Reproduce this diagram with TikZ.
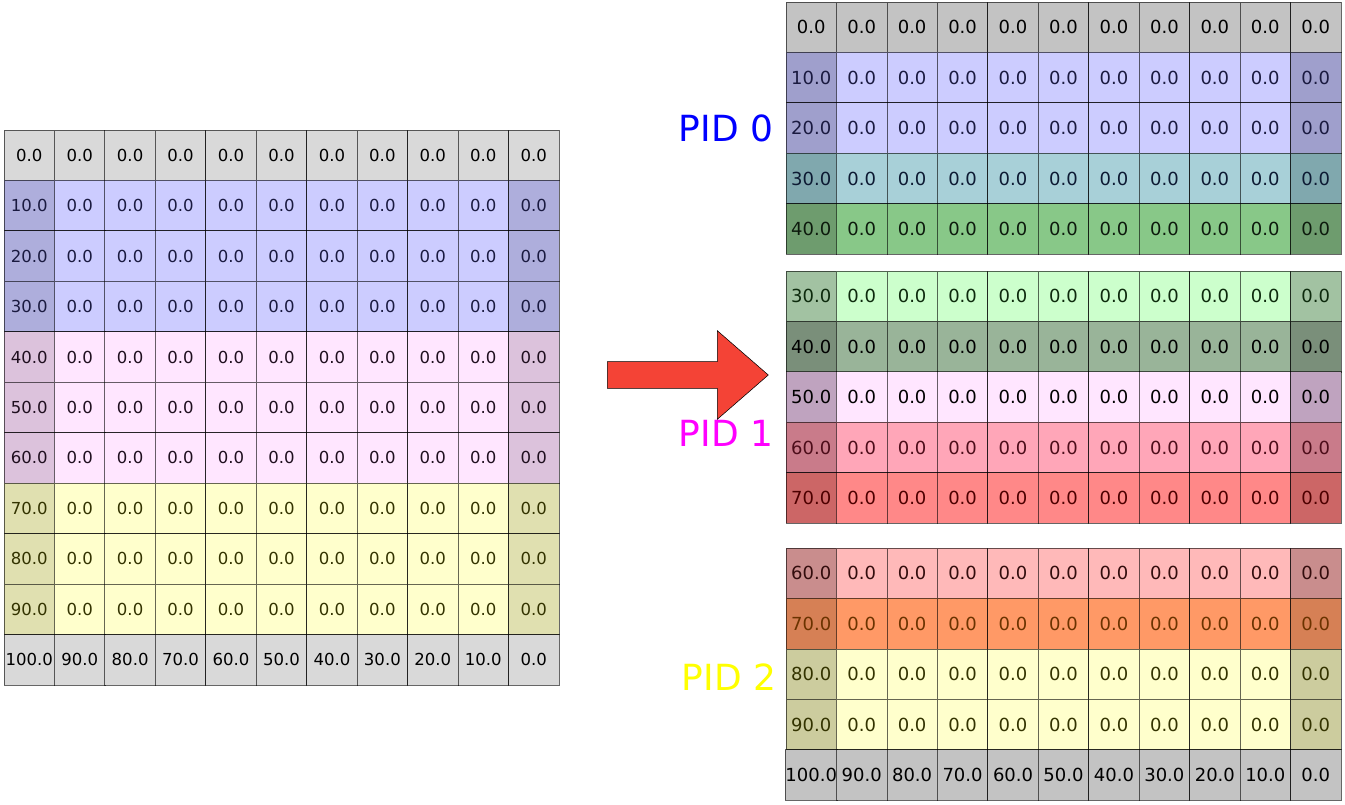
\documentclass[tikz,border=0pt]{standalone}
\usepackage{fontspec}
\setmainfont{DejaVu Sans}
\usetikzlibrary{shapes.arrows}

\definecolor{lgray}{HTML}{D9D9D9}
\definecolor{lblue}{HTML}{CCCCFF}
\definecolor{lblueedge}{HTML}{AEAEDC}
\definecolor{lbluetext}{HTML}{1A1A40}
\definecolor{lpink}{HTML}{FFE6FF}
\definecolor{lpinkedge}{HTML}{DCC2DC}
\definecolor{lpinktext}{HTML}{1F0F1F}
\definecolor{lyellow}{HTML}{FFFFCC}
\definecolor{lyellowedge}{HTML}{E0E0B0}
\definecolor{lyellowtext}{HTML}{333300}
\definecolor{rgray}{HTML}{C3C3C3}
\definecolor{rblueedge}{HTML}{9F9FCC}
\definecolor{teal}{HTML}{A8D0D8}
\definecolor{tealedge}{HTML}{80A8AE}
\definecolor{tealtext}{HTML}{0D1A33}
\definecolor{green}{HTML}{88C888}
\definecolor{greenedge}{HTML}{6E9C6E}
\definecolor{greentext}{HTML}{0D1A0D}
\definecolor{lgreen}{HTML}{CCFFCC}
\definecolor{lgreenedge}{HTML}{A2C2A2}
\definecolor{lgreentext}{HTML}{0D2A0D}
\definecolor{sage}{HTML}{99B499}
\definecolor{sageedge}{HTML}{7A8F7A}
\definecolor{rpinkedge}{HTML}{BFA3BF}
\definecolor{rose}{HTML}{FFA6B8}
\definecolor{roseedge}{HTML}{C97B8A}
\definecolor{rosetext}{HTML}{4D0D1A}
\definecolor{salmon}{HTML}{FF8888}
\definecolor{salmonedge}{HTML}{CC6666}
\definecolor{salmontext}{HTML}{4D0000}
\definecolor{blush}{HTML}{FFB9B9}
\definecolor{blushedge}{HTML}{C98D8D}
\definecolor{blushtext}{HTML}{330D0D}
\definecolor{orange}{HTML}{FF9966}
\definecolor{orangeedge}{HTML}{D68055}
\definecolor{orangetext}{HTML}{6B3300}
\definecolor{ryellowedge}{HTML}{CCCC9E}
\definecolor{arrowred}{HTML}{F44336}
\definecolor{pidblue}{HTML}{0000FF}
\definecolor{pidmagenta}{HTML}{FF00FF}
\definecolor{pidyellow}{HTML}{FFFF00}

\tikzset{
  cell/.style={draw=black, draw opacity=0.6, line width=0.6pt, minimum width=37.84pt, minimum height=37.84pt, inner sep=0pt},
  lcell/.style={cell, font=\fontsize{12.4}{14}\selectfont},
  rcell/.style={cell, font=\fontsize{13.5}{15}\selectfont},
  pid/.style={font=\fontsize{27}{30}\selectfont}
}

% one row of a grid: name, row, x0, y0, fill, edge fill, text colour, first label, cell style
\newcommand{\gridrow}[9]{%
  \foreach \col in {0,...,10} {
    \ifnum\col=0 \def\cellfill{#6}\def\celltext{#8}%
    \else\ifnum\col=10 \def\cellfill{#6}\def\celltext{0.0}%
    \else \def\cellfill{#5}\def\celltext{0.0}\fi\fi
    \node[#9, fill=\cellfill, text=#7] (#1-#2-\col) at ({#3+50.45*(\col+0.5)}, {#4+50.45*(#2+0.5)}) {\celltext};
  }%
}
% bottom row of a grid: name, row, x0, y0, fill, cell style
\newcommand{\lastrow}[6]{%
  \foreach \lab [count=\col from 0] in {100.0,90.0,80.0,70.0,60.0,50.0,40.0,30.0,20.0,10.0,0.0} {
    \node[#6, fill=#5] (#1-#2-\col) at ({#3+50.45*(\col+0.5)}, {#4+50.45*(#2+0.5)}) {\lab};
  }%
}

\begin{document}
\begin{tikzpicture}[x=0.75pt, y=-0.75pt]
  \useasboundingbox (0,0) rectangle (1345,805);

  % full domain
  \gridrow{L}{0}{4}{130}{lgray}{lgray}{black}{0.0}{lcell}
  \gridrow{L}{1}{4}{130}{lblue}{lblueedge}{lbluetext}{10.0}{lcell}
  \gridrow{L}{2}{4}{130}{lblue}{lblueedge}{lbluetext}{20.0}{lcell}
  \gridrow{L}{3}{4}{130}{lblue}{lblueedge}{lbluetext}{30.0}{lcell}
  \gridrow{L}{4}{4}{130}{lpink}{lpinkedge}{lpinktext}{40.0}{lcell}
  \gridrow{L}{5}{4}{130}{lpink}{lpinkedge}{lpinktext}{50.0}{lcell}
  \gridrow{L}{6}{4}{130}{lpink}{lpinkedge}{lpinktext}{60.0}{lcell}
  \gridrow{L}{7}{4}{130}{lyellow}{lyellowedge}{lyellowtext}{70.0}{lcell}
  \gridrow{L}{8}{4}{130}{lyellow}{lyellowedge}{lyellowtext}{80.0}{lcell}
  \gridrow{L}{9}{4}{130}{lyellow}{lyellowedge}{lyellowtext}{90.0}{lcell}
  \lastrow{L}{10}{4}{130}{lgray}{lcell}

  % PID 0
  \gridrow{A}{0}{786}{2}{rgray}{rgray}{black}{0.0}{rcell}
  \gridrow{A}{1}{786}{2}{lblue}{rblueedge}{lbluetext}{10.0}{rcell}
  \gridrow{A}{2}{786}{2}{lblue}{rblueedge}{lbluetext}{20.0}{rcell}
  \gridrow{A}{3}{786}{2}{teal}{tealedge}{tealtext}{30.0}{rcell}
  \gridrow{A}{4}{786}{2}{green}{greenedge}{greentext}{40.0}{rcell}

  % PID 1
  \gridrow{B}{0}{786}{271}{lgreen}{lgreenedge}{lgreentext}{30.0}{rcell}
  \gridrow{B}{1}{786}{271}{sage}{sageedge}{black}{40.0}{rcell}
  \gridrow{B}{2}{786}{271}{lpink}{rpinkedge}{black}{50.0}{rcell}
  \gridrow{B}{3}{786}{271}{rose}{roseedge}{rosetext}{60.0}{rcell}
  \gridrow{B}{4}{786}{271}{salmon}{salmonedge}{salmontext}{70.0}{rcell}

  % PID 2
  \gridrow{C}{0}{786}{548}{blush}{blushedge}{blushtext}{60.0}{rcell}
  \gridrow{C}{1}{786}{548}{orange}{orangeedge}{orangetext}{70.0}{rcell}
  \gridrow{C}{2}{786}{548}{lyellow}{ryellowedge}{lyellowtext}{80.0}{rcell}
  \gridrow{C}{3}{786}{548}{lyellow}{ryellowedge}{lyellowtext}{90.0}{rcell}
  \lastrow{C}{4}{786}{548}{rgray}{rcell}

  \node[pid, text=pidblue] (pid0) at (726,128) {PID 0};
  \node[pid, text=pidmagenta] (pid1) at (726,433) {PID 1};
  \node[pid, text=pidyellow] (pid2) at (729,677) {PID 2};

  \node[single arrow, draw=black, line width=0.4pt, fill=arrowred, anchor=west,
        minimum height=120.75pt, inner xsep=0pt, inner ysep=9.75pt,
        single arrow head extend=23.25pt, single arrow tip angle=82] (split) at (607,375) {};
\end{tikzpicture}
\end{document}
